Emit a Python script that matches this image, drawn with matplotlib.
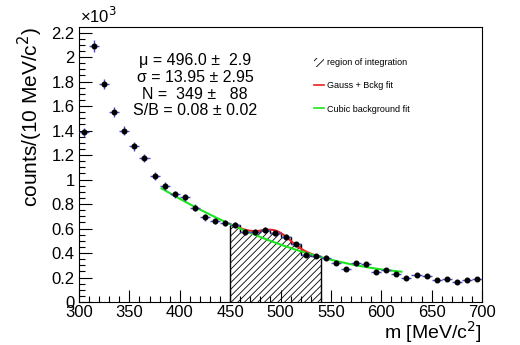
import numpy as np
import matplotlib.pyplot as plt
from matplotlib.patches import Patch
from matplotlib.lines import Line2D
from matplotlib.ticker import MultipleLocator, FormatStrFormatter

plt.rcParams['font.family'] = ['Liberation Sans', 'DejaVu Sans']
plt.rcParams['hatch.linewidth'] = 0.6

# histogram: 10 MeV bins from 300 to 700
bin_edges = np.arange(300, 701, 10)
bin_centers = bin_edges[:-1] + 5
counts = np.array([1385, 2090, 1780, 1550, 1400, 1270, 1175, 1030, 945, 880,
                   855, 770, 690, 660, 645, 630, 570, 575, 585, 565,
                   530, 470, 385, 375, 362, 318, 268, 315, 307, 242,
                   260, 232, 197, 217, 213, 182, 186, 160, 178, 186])

# integration window
int_lo, int_hi = 450, 540

# fit results
mu, mu_err = 496.0, 2.9
sigma, sigma_err = 13.95, 2.95
n_sig, n_sig_err = 349, 88
sb, sb_err = 0.08, 0.02

# cubic background read at a few masses (counts per bin)
bkg_m = np.array([380, 420, 450, 495, 540, 580, 620])
bkg_val = np.array([935, 760, 633, 485, 360, 300, 245])
bkg_coef = np.polyfit(bkg_m, bkg_val, 3)

fig = plt.figure(figsize=(5.2, 3.45), dpi=100)
ax = fig.add_axes([79/520, 1 - 302/345, 403/520, 275/345])

# hatched region of integration
sel = (bin_centers > int_lo) & (bin_centers < int_hi)
ax.stairs(counts[sel] / 1e3, bin_edges[(bin_edges >= int_lo) & (bin_edges <= int_hi)],
          fill=True, facecolor='none', edgecolor='k', hatch='/////', lw=1.0, zorder=1)

# fits
m_bkg = np.linspace(382, 620, 300)
m_sig = np.linspace(int_lo, int_hi, 300)
amp = n_sig * 10 / (np.sqrt(2 * np.pi) * sigma)
fit = np.polyval(bkg_coef, m_sig) + amp * np.exp(-0.5 * ((m_sig - mu) / sigma) ** 2)
ax.plot(m_sig, fit / 1e3, color='#ee2020', lw=1.5, zorder=2)
ax.plot(m_bkg, np.polyval(bkg_coef, m_bkg) / 1e3, color='#1ee61e', lw=1.5, zorder=3)

# data points
ax.errorbar(bin_centers, counts / 1e3, xerr=5, yerr=np.sqrt(counts) / 1e3,
            fmt='o', ms=3.3, mfc='k', mec='k', ecolor='#4a4ad0', elinewidth=1,
            capsize=0, zorder=4)

ax.set_xlim(300, 700)
ax.set_ylim(0, 2.245)
ax.xaxis.set_major_locator(MultipleLocator(50))
ax.xaxis.set_minor_locator(MultipleLocator(10))
ax.yaxis.set_major_locator(MultipleLocator(0.2))
ax.yaxis.set_minor_locator(MultipleLocator(0.05))
ax.yaxis.set_major_formatter(FormatStrFormatter('%g'))
ax.tick_params(which='both', direction='in', labelsize=12, top=False, right=False)
ax.tick_params(which='major', length=9, width=0.8)
ax.tick_params(which='minor', length=4.5, width=0.8)
ax.tick_params(axis='x', pad=2)
ax.tick_params(axis='y', pad=3)

ax.set_xlabel('m [MeV/c$^2$]', fontsize=14, loc='right')
ax.xaxis.set_label_coords(1.0, -0.062)
ax.set_ylabel('counts/(10 MeV/c$^2$)', fontsize=15, loc='top')
ax.yaxis.set_label_coords(-0.085, 1.0)
fig.text(80/520, 1 - 26/345, '×10$^3$', fontsize=12, ha='left', va='bottom')

stats = (f'\u03bc = {mu:.1f} \u00b1  {mu_err:.1f}\n'
         f'\u03c3 = {sigma:.2f} \u00b1 {sigma_err:.2f}\n'
         f'N =  {n_sig} \u00b1   {n_sig_err}\n'
         f'S/B = {sb:.2f} \u00b1 {sb_err:.2f}')
fig.text(195/520, 1 - 53/345, stats, fontsize=11.5, ha='center', va='top',
         multialignment='center', linespacing=1.15)

handles = [Patch(facecolor='none', edgecolor='k', hatch='////', lw=0),
           Line2D([], [], color='#ee2020', lw=1.2),
           Line2D([], [], color='#1ee61e', lw=1.2)]
labels = ['region of integration', 'Gauss + Bckg fit', 'Cubic background fit']
fig.legend(handles, labels, loc='upper left', bbox_to_anchor=(310/520, 1 - 54/345),
           frameon=False, fontsize=6.5, handlelength=1.2, handleheight=1.2,
           handletextpad=0.3, labelspacing=1.5, borderaxespad=0)

fig.savefig('out.png', dpi=100)
